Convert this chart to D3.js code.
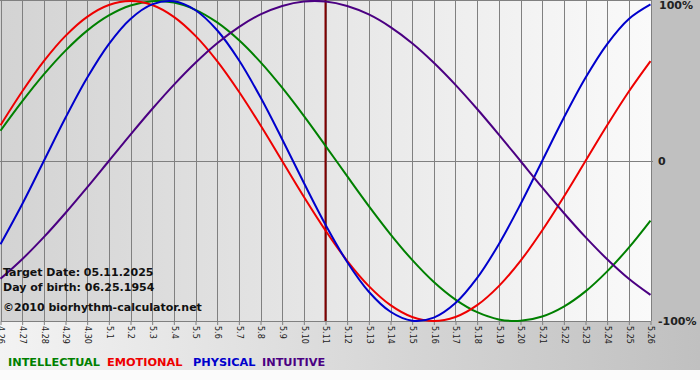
<!DOCTYPE html>
<html><head><meta charset="utf-8">
<script src="https://cdn.jsdelivr.net/npm/d3@7"></script>
<style>html,body{margin:0;padding:0;background:#fff;}svg{display:block;}</style>
</head><body>
<script>
const dates = ["4.26","4.27","4.28","4.29","4.30","5.1","5.2","5.3","5.4","5.5","5.6","5.7","5.8","5.9","5.10","5.11","5.12","5.13","5.14","5.15","5.16","5.17","5.18","5.19","5.20","5.21","5.22","5.23","5.24","5.25","5.26"];
const physical = [-0.520,-0.270,0,0.270,0.520,0.731,0.888,0.979,0.998,0.942,0.817,0.631,0.398,0.136,-0.136,-0.398,-0.631,-0.817,-0.942,-0.998,-0.979,-0.888,-0.731,-0.520,-0.270,0,0.270,0.520,0.731,0.888,0.979];
const emotional = [0.223,0.434,0.624,0.782,0.901,0.975,1.0,0.975,0.901,0.782,0.624,0.434,0.223,0,-0.223,-0.434,-0.624,-0.782,-0.901,-0.975,-1.0,-0.975,-0.901,-0.782,-0.624,-0.434,-0.223,0,0.223,0.434,0.624];
const intellectual = [0.189,0.372,0.541,0.690,0.815,0.910,0.972,0.999,0.990,0.945,0.866,0.756,0.618,0.458,0.282,0.095,-0.095,-0.282,-0.458,-0.618,-0.756,-0.866,-0.945,-0.990,-0.999,-0.972,-0.910,-0.815,-0.690,-0.541,-0.372];
const intuitive = [-0.736,-0.614,-0.476,-0.325,-0.165,0,0.165,0.325,0.476,0.614,0.736,0.837,0.916,0.969,0.997,0.997,0.969,0.916,0.837,0.736,0.614,0.476,0.325,0.165,0,-0.165,-0.325,-0.476,-0.614,-0.736,-0.837];
const seriesNames = ["INTELLECTUAL","EMOTIONAL","PHYSICAL","INTUITIVE"];
const seriesColors = ["#008000","#ee0000","#0000cc","#4b0082"];
const yTickValues = [1,0,-1];
const yTickLabels = ["100%","0","-100%"];
const targetIndex = 15;
const infoLines = ["Target Date: 05.11.2025","Day of birth: 06.25.1954","\u00A92010 biorhythm-calculator.net"];

const W=700,H=380;
const svg=d3.select("body").append("svg").attr("width",W).attr("height",H);
const defs=svg.append("defs");
const g1=defs.append("linearGradient").attr("id","bg").attr("x1","0").attr("x2","1").attr("y1","0").attr("y2","0");
g1.append("stop").attr("offset","0").attr("stop-color","#f3f3f3");
g1.append("stop").attr("offset","1").attr("stop-color","#c0c0c0");
const g2=defs.append("linearGradient").attr("id","plotbg").attr("x1","0").attr("x2","1").attr("y1","0").attr("y2","0");
g2.append("stop").attr("offset","0").attr("stop-color","#d3d3d3");
g2.append("stop").attr("offset","1").attr("stop-color","#fafafa");

svg.append("rect").attr("width",W).attr("height",H).attr("fill","url(#bg)");
svg.append("rect").attr("x",651).attr("y",0).attr("width",49).attr("height",321).attr("fill","#c0c0c0");
svg.append("rect").attr("x",0).attr("y",370).attr("width",W).attr("height",10).attr("fill","#fbfbfb");

const x=d3.scaleLinear().domain([0,dates.length-1]).range([0.5,650.5]);
const y=d3.scaleLinear().domain([-1,1]).range([321,1]);

svg.append("rect").attr("x",0).attr("y",0).attr("width",651).attr("height",321).attr("fill","url(#plotbg)");

// vertical grid
svg.append("g").selectAll("line").data(dates).join("line")
  .attr("x1",(d,i)=>Math.round(x(i))+0.5).attr("x2",(d,i)=>Math.round(x(i))+0.5)
  .attr("y1",0).attr("y2",321).attr("stroke","#808080").attr("stroke-width",1);
// top border
svg.append("line").attr("x1",0).attr("x2",651).attr("y1",0.5).attr("y2",0.5).attr("stroke","#808080");
// zero line
svg.append("line").attr("x1",0).attr("x2",653).attr("y1",Math.round(y(0))+0.5).attr("y2",Math.round(y(0))+0.5).attr("stroke","#808080");

// x axis
const xAxis=d3.axisBottom(x).tickValues(d3.range(dates.length)).tickFormat(i=>dates[i]).tickSize(4).tickSizeOuter(0);
const ax=svg.append("g").attr("transform","translate(0,321)").call(xAxis);
ax.select(".domain").attr("stroke","#808080");
ax.selectAll(".tick line").attr("stroke","#808080");
ax.selectAll(".tick text").attr("font-family","'DejaVu Sans', Verdana, sans-serif").attr("font-size","8px").attr("fill","#1a1a1a")
  .attr("transform","rotate(90)").attr("text-anchor","start").attr("x",5).attr("y",0).attr("dy","0.35em");

// y labels
svg.append("g").selectAll("text").data(yTickValues).join("text")
  .attr("x",(d,i)=>i===1?658:(i===0?659:658)).attr("y",d=>y(d)).attr("dy",(d,i)=>i===0?"0.7em":"0.35em")
  .attr("font-family","'DejaVu Sans', Verdana, sans-serif").attr("font-weight","bold").attr("font-size","11px").attr("fill","#222")
  .text((d,i)=>yTickLabels[i]);

// target line
svg.append("line").attr("x1",x(targetIndex)).attr("x2",x(targetIndex)).attr("y1",0).attr("y2",321)
  .attr("stroke","#800000").attr("stroke-width",2);

// curves
const seriesData=[intellectual,emotional,physical,intuitive];
const line=d3.line().x((d,i)=>x(i)).y(d=>y(d)).curve(d3.curveCatmullRom);
svg.append("g").selectAll("path").data(seriesData).join("path")
  .attr("d",d=>line(d)).attr("fill","none").attr("stroke",(d,i)=>seriesColors[i]).attr("stroke-width",2);

// info text
svg.append("g").selectAll("text").data(infoLines).join("text")
  .attr("x",3).attr("y",(d,i)=>[276,291,311][i])
  .attr("font-family","'DejaVu Sans', Verdana, sans-serif").attr("font-weight","bold").attr("font-size","11px").attr("fill","#111")
  .text(d=>d);

// legend
const legX=[8,107,193,262];
svg.append("g").selectAll("text").data(seriesNames).join("text")
  .attr("x",(d,i)=>legX[i]).attr("y",366)
  .attr("font-family","'DejaVu Sans', Verdana, sans-serif").attr("font-weight","bold").attr("font-size","11.3px")
  .attr("fill",(d,i)=>seriesColors[i]).text(d=>d);
</script>
</body></html>
